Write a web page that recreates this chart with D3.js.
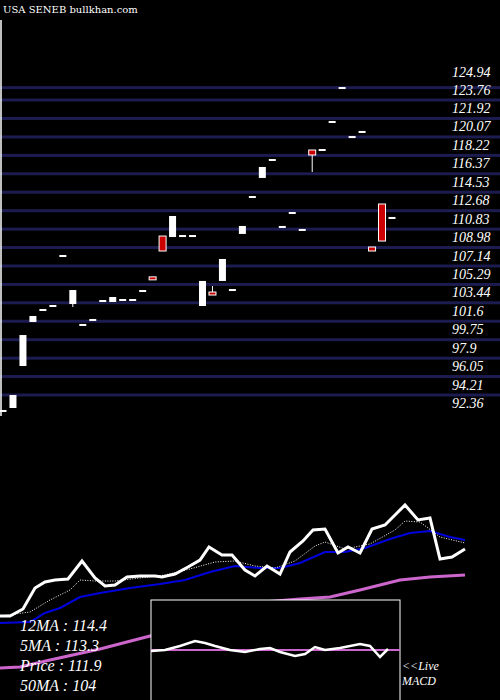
<!DOCTYPE html>
<html><head><meta charset="utf-8">
<script src="https://cdn.jsdelivr.net/npm/d3@7"></script>
<style>body{margin:0;background:#000}svg{display:block}</style>
</head><body><svg id="c" width="500" height="700"></svg>
<script>
const priceTicks=[124.94,123.76,121.92,120.07,118.22,116.37,114.53,112.68,110.83,108.98,107.14,105.29,103.44,101.6,99.75,97.9,96.05,94.21,92.36];
const opens =[91.56,91.86,96.07,100.48,101.68,102.08,107.09,102.28,100.18,100.68,102.58,102.48,102.68,102.68,103.58,105.0,109.09,108.99,109.09,109.09,102.08,103.48,104.59,103.68,109.30,113.0,114.91,116.71,110.0,111.4,109.7,117.71,117.71,120.52,123.92,119.01,119.52,107.99,112.30,110.9];
const closes=[91.56,93.16,99.17,101.08,101.68,102.08,107.09,103.68,100.18,100.68,102.58,102.98,102.68,102.68,103.58,104.79,107.59,111.10,109.09,109.09,104.59,103.28,106.79,103.68,110.10,113.0,116.01,116.71,110.0,111.4,109.7,117.21,117.71,120.52,123.92,119.01,119.52,107.59,108.59,110.9];
const highs =[91.56,93.16,99.17,101.08,101.68,102.08,107.09,103.68,100.18,100.68,102.58,102.98,102.68,102.68,103.58,105.0,109.09,111.10,109.09,109.09,104.59,104.08,106.79,103.68,110.10,113.0,116.01,116.71,110.0,111.4,109.7,117.71,117.71,120.52,123.92,119.01,119.52,107.99,112.30,110.9];
const lows  =[91.56,91.86,96.07,100.48,101.68,102.08,107.09,101.98,100.18,100.68,102.58,102.48,102.68,102.68,103.58,104.79,107.59,108.99,109.09,109.09,102.08,103.28,104.59,103.68,109.30,113.0,114.91,116.71,110.0,111.4,109.7,115.51,117.71,120.52,123.92,119.01,119.52,107.59,108.59,110.9];
// lower panel indicator values (arbitrary units)
const priceX=[0,10,23,35,45,55,68,82,95,105,115,127,140,155,162,175,188,200,209,222,232,245,255,267,280,290,303,313,325,338,348,360,372,385,395,405,418,430,440,452,465];
const priceLine=[84,84,91,112,118,120,121,139,122,114,115,123,124,124,123,126,133,140,153,145,145,130,124,134,126,148,159,170,171,147,153,147,171,175,185,195,180,182,141,143,151];
const ma5X=[0,30,50,70,80,95,115,140,165,190,215,235,255,275,295,315,325,345,370,395,405,420,440,465];
const ma5=[84,88,100,110,120,119,119,122,125,131,138,139,134,132,139,154,158,151,156,170,179,178,163,157];
const ma12X=[0,30,45,60,80,100,130,160,185,210,235,260,280,300,325,345,365,390,410,430,450,465];
const ma12=[77,78,87,92,103,107,112,116,120,128,134,132,132,137,148,148,152,161,167,169,163,160];
const ma50X=[0,20,50,100,150,250,300,330,360,400,430,465];
const ma50=[32,33,40,51,64,97,101,103,110,120,123,125];
const macdX=[151,165,180,195,205,215,230,245,260,270,280,295,305,315,325,340,360,370,380,388];
const macd=[-1,0,4,9,7,4,0,-2,1,2,-2,-6,-4,3,0,2,6,4,-7,1];
const labels=["12MA : 114.4","5MA : 113.3","Price   : 111.9","50MA : 104"];

const svg=d3.select("#c");
svg.append("rect").attr("width",500).attr("height",700).attr("fill","#000");
const y=d3.scaleLinear().domain([92.36,121.92]).range([403,108]);
const x=d3.scaleLinear().domain([0,39]).range([3,392]);
const serif="'Liberation Serif','DejaVu Serif',serif";
svg.append("text").attr("x",3).attr("y",13).attr("fill","#fff").attr("font-family","'DejaVu Serif',serif").attr("font-size",10).text("USA SENEB bullkhan.com");
priceTicks.forEach((t,i)=>{
  if(i>0) svg.append("rect").attr("x",0).attr("y",(i==1?y(t)-2:y(t)-8)-1.5).attr("width",500).attr("height",3).attr("fill","#1c1c50");
  svg.append("text").attr("x",452).attr("y",y(t)+(i==0?-1:5)).attr("fill","#fff").attr("font-family",serif).attr("font-style","italic").attr("font-size",14).text(t);
});
svg.append("line").attr("x1",1).attr("x2",1).attr("y1",20).attr("y2",416).attr("stroke","#fff").attr("stroke-width",1.5);
opens.forEach((o,i)=>{
  const c=closes[i],cx=x(i);
  const down=c<o;
  if(highs[i]>Math.max(o,c)+0.05||lows[i]<Math.min(o,c)-0.05)
    svg.append("line").attr("x1",cx).attr("x2",cx).attr("y1",y(highs[i])).attr("y2",y(lows[i])).attr("stroke","#fff");
  if(Math.abs(o-c)<0.05){
    svg.append("rect").attr("x",cx-3.5).attr("y",y(o)-1).attr("width",7).attr("height",2).attr("fill","#fff");
  } else {
    const t=y(Math.max(o,c)),b=y(Math.min(o,c));
    svg.append("rect").attr("x",cx-3.5).attr("y",t).attr("width",7).attr("height",Math.max(3,b-t))
      .attr("fill",down?"#cc0000":"#fff").attr("stroke","#fff").attr("stroke-width",down?1:0);
  }
});
const ly=d3.scaleLinear().domain([0,100]).range([700,600]);
const line=(xs,vs)=>d3.line().x((d,i)=>xs[i]).y(d=>ly(d))(vs);
svg.append("path").attr("d",line(ma50X,ma50)).attr("fill","none").attr("stroke","#cc66cc").attr("stroke-width",3);
svg.append("path").attr("d",line(ma12X,ma12)).attr("fill","none").attr("stroke","#0000dd").attr("stroke-width",2);
svg.append("path").attr("d",line(ma5X,ma5)).attr("fill","none").attr("stroke","#fff").attr("stroke-width",1).attr("stroke-dasharray","1,1.5");
svg.append("path").attr("d",line(priceX,priceLine)).attr("fill","none").attr("stroke","#fff").attr("stroke-width",3);
labels.forEach((t,i)=>svg.append("text").attr("x",20).attr("y",631+i*20).attr("fill","#fff").attr("font-family",serif).attr("font-style","italic").attr("font-size",16).text(t));
svg.append("rect").attr("x",151).attr("y",600).attr("width",249).attr("height",102).attr("fill","#000").attr("stroke","#fff").attr("stroke-width",1);
const my=d3.scaleLinear().domain([0,10]).range([650,640]);
svg.append("line").attr("x1",151).attr("x2",400).attr("y1",my(0)).attr("y2",my(0)).attr("stroke","#cc66cc").attr("stroke-width",2);
svg.append("path").attr("d",d3.line().x((d,i)=>macdX[i]).y(d=>my(d))(macd)).attr("fill","none").attr("stroke","#fff").attr("stroke-width",2.5);
["<<Live","MACD"].forEach((t,i)=>svg.append("text").attr("x",402).attr("y",670+i*15).attr("fill","#fff").attr("font-family",serif).attr("font-style","italic").attr("font-size",12).text(t));
</script></body></html>
